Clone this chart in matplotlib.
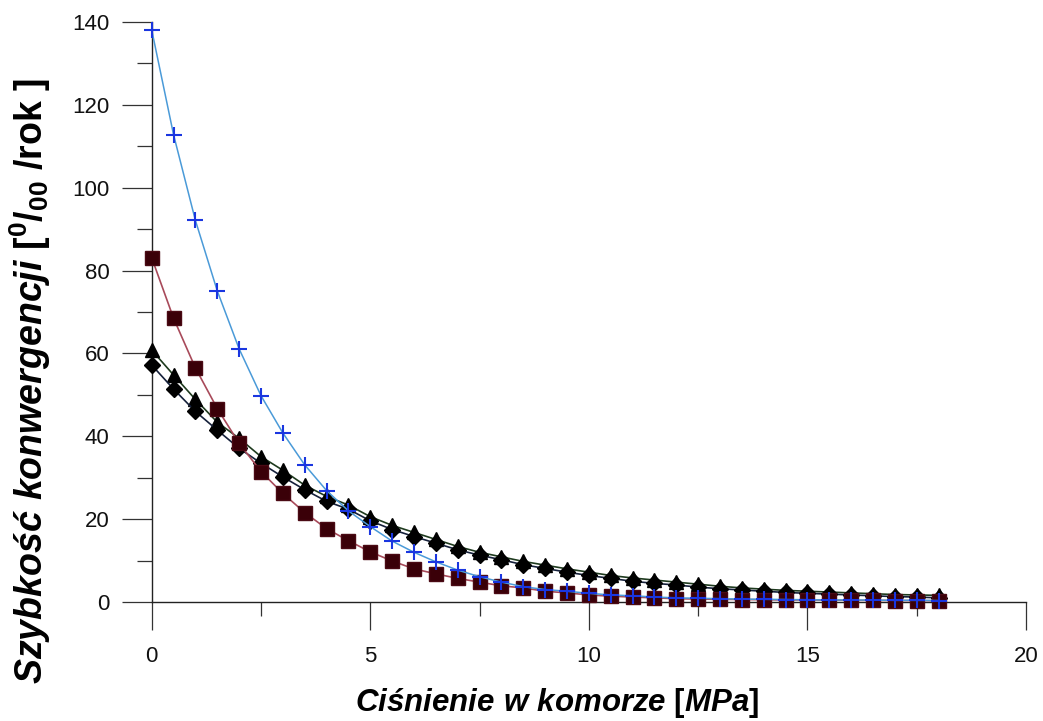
import matplotlib
matplotlib.use("Agg")
import matplotlib.pyplot as plt
from matplotlib.ticker import MultipleLocator
import numpy as np

plt.rcParams['font.family'] = ['Liberation Sans', 'DejaVu Sans']
plt.rcParams['mathtext.fontset'] = 'custom'
plt.rcParams['mathtext.rm'] = 'Liberation Sans:bold'
plt.rcParams['mathtext.bf'] = 'Liberation Sans:bold'
plt.rcParams['mathtext.it'] = 'Liberation Sans:italic:bold'

# pressure in the chamber [MPa]
pressure = [i * 0.5 for i in range(37)]

series_plus = [138.1, 112.8, 92.1, 75.1, 61.1, 49.8, 40.8, 33.1, 26.9, 22.0,
               18.2, 14.7, 12.0, 9.7, 7.7, 6.1, 4.8, 3.7, 3.0, 2.6,
               2.1, 1.7, 1.5, 1.2, 1.0, 0.9, 0.8, 0.7, 0.65, 0.6,
               0.55, 0.5, 0.5, 0.45, 0.4, 0.4, 0.35]
series_square = [83.1, 68.5, 56.5, 46.7, 38.3, 31.5, 26.2, 21.6, 17.7, 14.8,
                 12.1, 9.9, 8.0, 6.8, 5.7, 4.8, 3.9, 3.4, 2.6, 2.2,
                 1.7, 1.4, 1.2, 1.0, 0.8, 0.7, 0.65, 0.6, 0.55, 0.5,
                 0.5, 0.45, 0.4, 0.4, 0.35, 0.35, 0.3]
series_triangle = [60.8, 54.8, 48.9, 43.4, 39.5, 35.1, 31.8, 28.2, 25.5, 23.4,
                   20.6, 18.5, 16.8, 15.1, 13.4, 12.0, 10.9, 9.8, 8.9, 8.0,
                   7.2, 6.4, 5.8, 5.3, 4.8, 4.3, 3.8, 3.4, 3.1, 2.8,
                   2.6, 2.4, 2.2, 2.0, 1.8, 1.7, 1.6]
series_diamond = [57.2, 51.4, 46.0, 41.5, 37.1, 33.5, 30.2, 27.1, 24.3, 22.4,
                  19.6, 17.5, 15.8, 14.2, 12.6, 11.3, 10.2, 9.0, 8.1, 7.2,
                  6.4, 5.7, 5.0, 4.5, 4.1, 3.6, 3.2, 2.9, 2.6, 2.3,
                  2.1, 1.9, 1.7, 1.5, 1.3, 1.2, 1.0]

x_ticks = [0, 5, 10, 15, 20]
y_ticks = [0, 20, 40, 60, 80, 100, 120, 140]

fig = plt.figure(figsize=(10.43, 7.21), dpi=100)
ax = fig.add_axes([151.7 / 1043, (721 - 602) / 721, (1026 - 151.7) / 1043, 580 / 721])

ax.plot(pressure, series_triangle, color='#1e3a1e', lw=1.2, marker='^', ms=10,
        mfc='black', mec='black', clip_on=False, zorder=3)
ax.plot(pressure, series_diamond, color='#15203a', lw=1.2, marker='D', ms=8.5,
        mfc='black', mec='black', clip_on=False, zorder=4)
ax.plot(pressure, series_square, color='#a84a5a', lw=1.2, marker='s', ms=10.5,
        mfc='#3a0008', mec='#4a0a14', clip_on=False, zorder=5)
ax.plot(pressure, series_plus, color='#4a9ad8', lw=1.1, marker='+', ms=12,
        mew=1.5, mec='#1a36e0', clip_on=False, zorder=6)

ax.set_xlim(0, 20)
ax.set_ylim(0, 140)
ax.set_xticks(x_ticks)
ax.set_yticks(y_ticks)
ax.xaxis.set_minor_locator(MultipleLocator(2.5))
ax.yaxis.set_minor_locator(MultipleLocator(10))

for s in ['top', 'right']:
    ax.spines[s].set_visible(False)
for s in ['left', 'bottom']:
    ax.spines[s].set_color('#222222')
    ax.spines[s].set_linewidth(1.0)

ax.tick_params(axis='x', which='major', direction='out', length=20, width=0.9,
               color='#333333', pad=12, labelsize=16, labelcolor='#111111')
ax.tick_params(axis='x', which='minor', direction='out', length=10, width=0.9,
               color='#333333')
ax.tick_params(axis='y', which='major', direction='out', length=21.5, width=0.9,
               color='#333333', pad=9, labelsize=16, labelcolor='#111111')
ax.tick_params(axis='y', which='minor', direction='out', length=10.5, width=0.9,
               color='#333333')

fig.text(557 / 1043, 1 - 703 / 721,
         r'$\mathit{Ciśnienie\ w\ komorze}$ [$\mathit{MPa}$]',
         ha='center', va='center', fontsize=22.5, fontweight='bold')
fig.text(30 / 1043, 1 - 381 / 721,
         r'$\mathit{Szybkość\ konwergencji}$ [$^{0}$/$_{00}$ /rok ]',
         ha='center', va='center', rotation=90, fontsize=27, fontweight='bold')

fig.savefig('out.png', dpi=100)
